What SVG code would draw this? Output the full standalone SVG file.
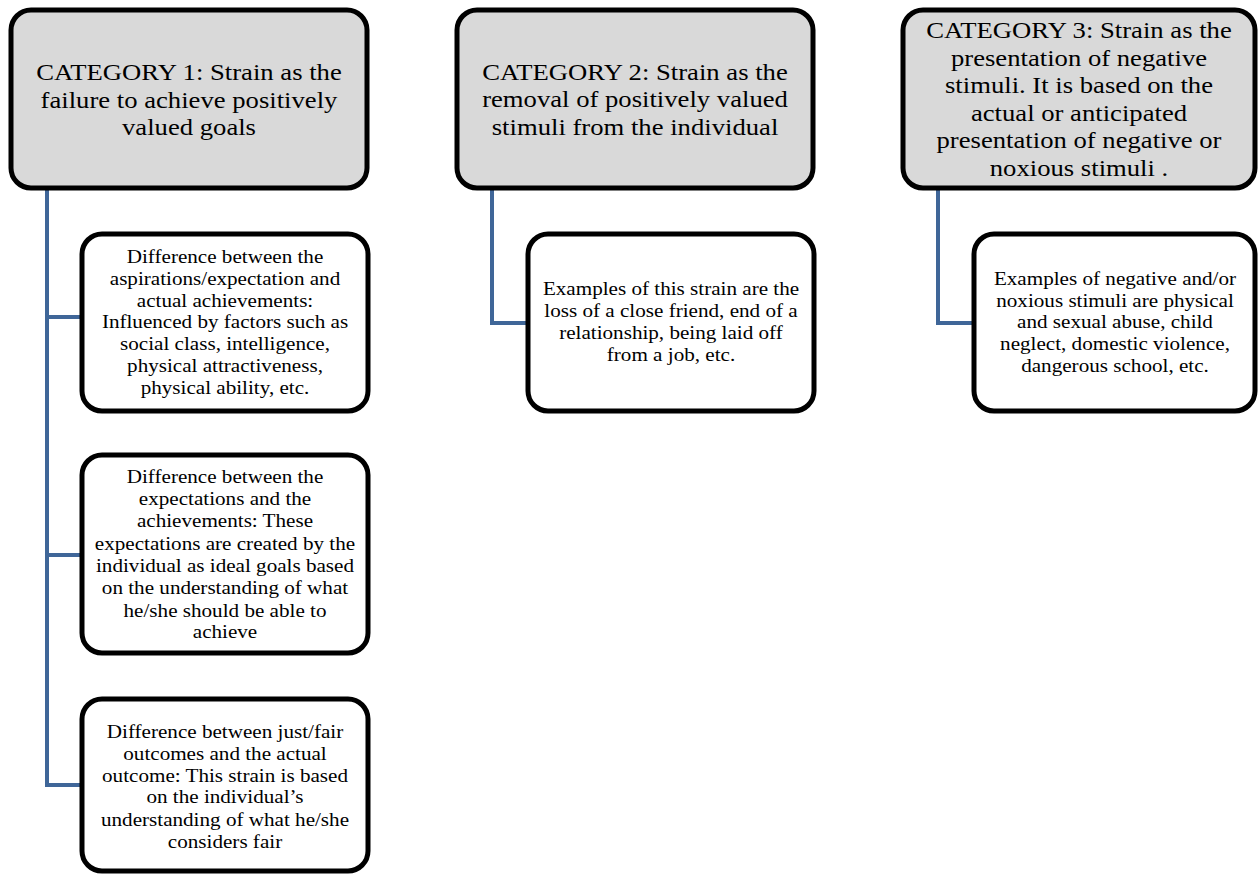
<svg xmlns="http://www.w3.org/2000/svg" width="1259" height="876" viewBox="0 0 1259 876">
<style>
.cat{fill:#d9d9d9;stroke:#000;stroke-width:5}
.kid{fill:#fff;stroke:#000;stroke-width:5}
.ct{font-family:"Liberation Serif","Times New Roman",serif;font-size:23.6px;fill:#000;text-anchor:middle}
.kt{font-family:"Liberation Serif","Times New Roman",serif;font-size:18.7px;fill:#000;text-anchor:middle}
.conn{fill:none;stroke:#3f6698;stroke-width:4}
</style>
<rect width="1259" height="876" fill="#fff"/>
<g id="connectors">
<path class="conn" d="M47 190 V785 H82 M47 317 H82 M47 555 H82"/>
<path class="conn" d="M492 190 V323 H528"/>
<path class="conn" d="M938 190 V323 H974"/>
</g>
<g id="cat1">
<rect class="cat" x="11" y="10" width="356" height="178" rx="20"/>
<text class="ct" transform="translate(189 0) scale(1.13 1)"><tspan x="0" y="80">CATEGORY 1: Strain as the</tspan><tspan x="0" y="108">failure to achieve positively</tspan><tspan x="0" y="135">valued goals</tspan></text>
</g>
<g id="cat2">
<rect class="cat" x="457" y="10" width="356" height="178" rx="20"/>
<text class="ct" transform="translate(635 0) scale(1.13 1)"><tspan x="0" y="80">CATEGORY 2: Strain as the</tspan><tspan x="0" y="107">removal of positively valued</tspan><tspan x="0" y="135">stimuli from the individual</tspan></text>
</g>
<g id="cat3">
<rect class="cat" x="903" y="10" width="352" height="178" rx="20"/>
<text class="ct" transform="translate(1079 0) scale(1.13 1)"><tspan x="0" y="38">CATEGORY 3: Strain as the</tspan><tspan x="0" y="66">presentation of negative</tspan><tspan x="0" y="93">stimuli. It is based on the</tspan><tspan x="0" y="121">actual or anticipated</tspan><tspan x="0" y="148">presentation of negative or</tspan><tspan x="0" y="176">noxious stimuli .</tspan></text>
</g>
<g id="kid1a">
<rect class="kid" x="82" y="234" width="286" height="177" rx="20"/>
<text class="kt" transform="translate(225 0) scale(1.13 1)"><tspan x="0" y="263">Difference between the</tspan><tspan x="0" y="285">aspirations/expectation and</tspan><tspan x="0" y="307">actual achievements:</tspan><tspan x="0" y="328">Influenced by factors such as</tspan><tspan x="0" y="350">social class, intelligence,</tspan><tspan x="0" y="372">physical attractiveness,</tspan><tspan x="0" y="394">physical ability, etc.</tspan></text>
</g>
<g id="kid1b">
<rect class="kid" x="82" y="455" width="286" height="198" rx="20"/>
<text class="kt" transform="translate(225 0) scale(1.13 1)"><tspan x="0" y="483">Difference between the</tspan><tspan x="0" y="505">expectations and the</tspan><tspan x="0" y="527">achievements: These</tspan><tspan x="0" y="550">expectations are created by the</tspan><tspan x="0" y="572">individual as ideal goals based</tspan><tspan x="0" y="594">on the understanding of what</tspan><tspan x="0" y="617">he/she should be able to</tspan><tspan x="0" y="638">achieve</tspan></text>
</g>
<g id="kid1c">
<rect class="kid" x="82" y="699" width="286" height="172" rx="20"/>
<text class="kt" transform="translate(225 0) scale(1.13 1)"><tspan x="0" y="738">Difference between just/fair</tspan><tspan x="0" y="760">outcomes and the actual</tspan><tspan x="0" y="782">outcome: This strain is based</tspan><tspan x="0" y="803">on the individual’s</tspan><tspan x="0" y="826">understanding of what he/she</tspan><tspan x="0" y="848">considers fair</tspan></text>
</g>
<g id="kid2">
<rect class="kid" x="528" y="234" width="286" height="177" rx="20"/>
<text class="kt" transform="translate(671 0) scale(1.13 1)"><tspan x="0" y="295">Examples of this strain are the</tspan><tspan x="0" y="317">loss of a close friend, end of a</tspan><tspan x="0" y="339">relationship, being laid off</tspan><tspan x="0" y="361">from a job, etc.</tspan></text>
</g>
<g id="kid3">
<rect class="kid" x="974" y="234" width="281" height="177" rx="20"/>
<text class="kt" transform="translate(1115 0) scale(1.13 1)"><tspan x="0" y="285">Examples of negative and/or</tspan><tspan x="0" y="307">noxious stimuli are physical</tspan><tspan x="0" y="328">and sexual abuse, child</tspan><tspan x="0" y="350">neglect, domestic violence,</tspan><tspan x="0" y="372">dangerous school, etc.</tspan></text>
</g>
</svg>
